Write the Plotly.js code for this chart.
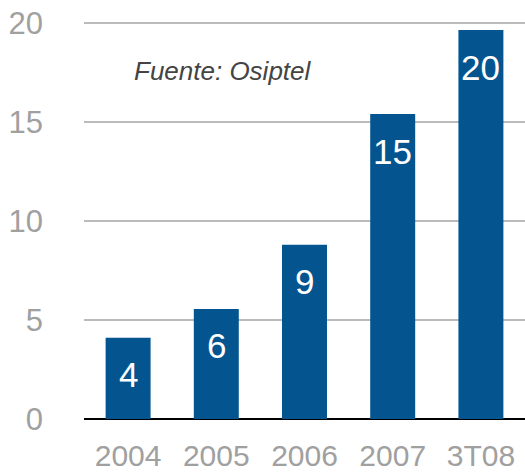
<!DOCTYPE html>
<html>
<head>
<meta charset="utf-8">
<script src="https://cdn.plot.ly/plotly-3.0.1.min.js"></script>
<style>html,body{margin:0;padding:0;background:#fff;}#chart{width:525px;height:474px;}</style>
</head>
<body>
<div id="chart"></div>
<script>
const categories = ["2004", "2005", "2006", "2007", "3T08"];
const values = [4.1, 5.56, 8.8, 15.4, 19.64];
const yTicks = [0, 5, 10, 15, 20];
const sourceNote = "Fuente: Osiptel";

const barColor = "#04558F";

const trace = {
  type: "bar",
  x: categories,
  y: values,
  width: 0.51,
  marker: {color: barColor},
  hoverinfo: "none"
};

const labelAnnotations = categories.map((c, i) => ({
  x: i, y: values[i], xref: "x", yref: "y",
  text: String(Math.round(values[i])),
  showarrow: false,
  yanchor: "middle", xanchor: "center",
  yshift: -37,
  font: {family: "Liberation Sans, Arial, sans-serif", size: 35, color: "#ffffff"}
}));

const layout = {
  width: 525, height: 474,
  margin: {l: 84, r: 0, t: 21, b: 55},
  paper_bgcolor: "#ffffff",
  plot_bgcolor: "#ffffff",
  showlegend: false,
  xaxis: {
    type: "category",
    range: [-0.5, 4.5],
    showgrid: false,
    showline: false,
    zeroline: false,
    ticks: "",
    ticklabelstandoff: 16,
    tickfont: {family: "Liberation Sans, Arial, sans-serif", size: 30, color: "#a0a0a0"},
    fixedrange: true
  },
  yaxis: {
    range: [0, 20.1],
    tickvals: yTicks,
    ticktext: yTicks.map(String),
    showgrid: true,
    gridcolor: "#bbbbbb",
    gridwidth: 2,
    zeroline: true,
    zerolinecolor: "#000000",
    zerolinewidth: 2,
    showline: false,
    ticks: "",
    ticklabelstandoff: 40,
    tickfont: {family: "Liberation Sans, Arial, sans-serif", size: 31, color: "#a0a0a0"},
    fixedrange: true
  },
  annotations: [
    {
      xref: "paper", yref: "y", x: 0.108, y: 17.6,
      xanchor: "left", yanchor: "middle",
      text: sourceNote, showarrow: false,
      font: {family: "Liberation Sans, Arial, sans-serif", size: 26, color: "#444444", style: "italic"}
    }
  ].concat(labelAnnotations)
};

Plotly.newPlot("chart", [trace], layout, {displayModeBar: false, staticPlot: true});
</script>
</body>
</html>
